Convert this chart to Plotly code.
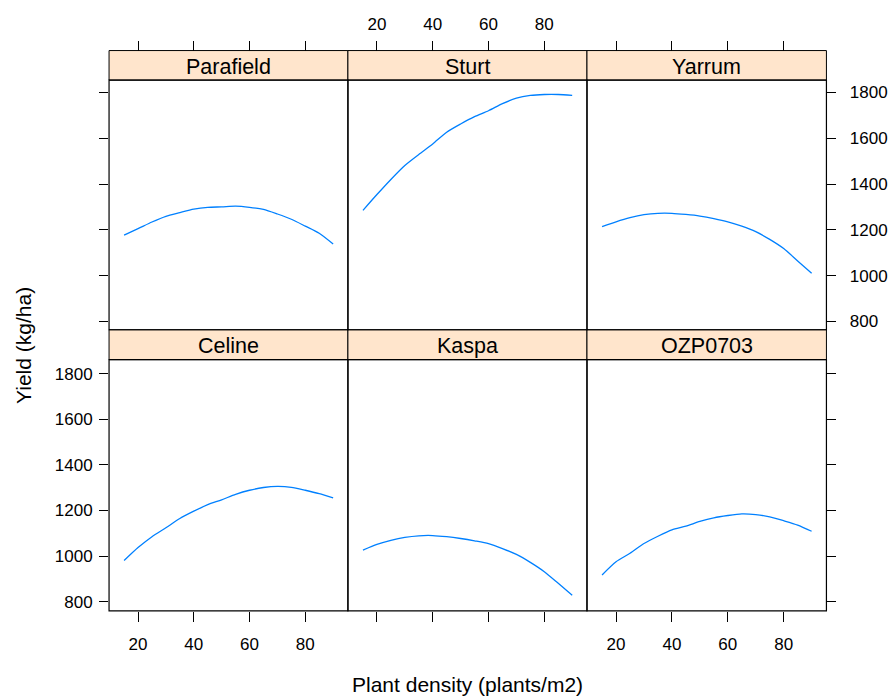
import plotly.graph_objects as go

W, H = 888, 698

density = [15, 20, 25, 30, 35, 40, 45, 50, 55, 60, 65, 70, 75, 80, 85, 90]
varieties = ["Parafield", "Sturt", "Yarrum", "Celine", "Kaspa", "OZP0703"]
yield_parafield = [1177, 1205, 1234, 1259, 1275, 1290, 1298, 1300, 1303, 1298, 1289, 1269, 1246, 1216, 1185, 1138]
yield_sturt = [1285, 1354, 1420, 1481, 1529, 1575, 1626, 1662, 1694, 1720, 1751, 1775, 1787, 1791, 1791, 1787]
yield_yarrum = [1214, 1235, 1253, 1266, 1272, 1272, 1267, 1260, 1249, 1235, 1216, 1192, 1158, 1118, 1064, 1010]
yield_celine = [980, 1037, 1085, 1124, 1165, 1197, 1226, 1247, 1271, 1289, 1301, 1306, 1302, 1289, 1274, 1255]
yield_kaspa = [1026, 1051, 1069, 1082, 1089, 1090, 1085, 1077, 1067, 1055, 1033, 1007, 972, 931, 880, 828]
yield_ozp0703 = [917, 975, 1012, 1055, 1087, 1115, 1131, 1152, 1168, 1178, 1185, 1182, 1172, 1155, 1136, 1109]
yields = [yield_parafield, yield_sturt, yield_yarrum, yield_celine, yield_kaspa, yield_ozp0703]

x_ticks = [20, 40, 60, 80]
y_ticks = [800, 1000, 1200, 1400, 1600, 1800]
x_range = [9.6, 95.3]
y_range_top = [763.4, 1854.0]
y_range_bot = [758.8, 1862.6]

FONT = "Liberation Sans, Arial, Helvetica, sans-serif"
LINE_COL = "#0080ff"
STRIP_COL = "#FFE5CC"

# pixel geometry
col_x = [109.3, 348.7, 588.3, 828.3]
rows = [  # (strip_top, panel_top, panel_bottom)
    (50.7, 80.3, 330.7),
    (330.7, 360.7, 612.7),
]

def px(x):
    return x / W

def py(y):
    return 1 - y / H

fig = go.Figure()
layout = dict(
    width=W, height=H,
    margin=dict(l=0, r=0, t=0, b=0),
    paper_bgcolor="white", plot_bgcolor="white",
    showlegend=False,
    font=dict(family=FONT, size=17, color="black"),
)
shapes = []
annotations = []

for i, name in enumerate(varieties):
    r, c = divmod(i, 3)
    s_top, p_top, p_bot = rows[r]
    x0, x1 = col_x[c], col_x[c + 1]
    xa = "xaxis" if i == 0 else f"xaxis{i+1}"
    ya = "yaxis" if i == 0 else f"yaxis{i+1}"
    xref = "x" if i == 0 else f"x{i+1}"
    yref = "y" if i == 0 else f"y{i+1}"

    fig.add_trace(go.Scatter(
        x=density, y=yields[i], mode="lines",
        line=dict(color=LINE_COL, width=1.3, shape="spline", smoothing=0.7),
        xaxis=xref, yaxis=yref, hoverinfo="skip",
    ))

    xax = dict(
        domain=[px(x0), px(x1)], range=x_range, tickmode="array",
        tickvals=x_ticks, showgrid=False, zeroline=False, showline=False,
        ticks="outside", ticklen=10, tickwidth=1, tickcolor="black",
        tickfont=dict(size=17, family=FONT, color="black"),
        fixedrange=True,
    )
    if r == 0:
        xax.update(side="top", anchor="free", position=py(s_top),
                   showticklabels=(c == 1), ticklabelstandoff=4)
    else:
        xax.update(side="bottom", anchor=yref,
                   showticklabels=(c != 1), ticklabelstandoff=8)

    yax = dict(
        domain=[py(p_bot), py(p_top)],
        range=y_range_top if r == 0 else y_range_bot,
        tickmode="array", tickvals=y_ticks, showgrid=False, zeroline=False,
        showline=False, anchor=xref, fixedrange=True,
        tickfont=dict(size=17, family=FONT, color="black"),
    )
    if c == 0:
        yax.update(side="left", ticks="outside", ticklen=9, tickwidth=1,
                   tickcolor="black", showticklabels=(r == 1),
                   ticklabelstandoff=3)
    elif c == 2:
        yax.update(side="right", ticks="outside", ticklen=9, tickwidth=1,
                   tickcolor="black", showticklabels=(r == 0),
                   ticklabelstandoff=10)
    else:
        yax.update(ticks="", showticklabels=False)
    layout[xa] = xax
    layout[ya] = yax

    # strip
    shapes.append(dict(type="rect", xref="paper", yref="paper",
                       x0=px(x0), x1=px(x1), y0=py(p_top), y1=py(s_top),
                       fillcolor=STRIP_COL, line=dict(color="black", width=1),
                       layer="below"))
    # panel border
    shapes.append(dict(type="rect", xref="paper", yref="paper",
                       x0=px(x0), x1=px(x1), y0=py(p_bot), y1=py(p_top),
                       fillcolor="rgba(0,0,0,0)", line=dict(color="black", width=1.2),
                       layer="above"))
    annotations.append(dict(text=name, xref="paper", yref="paper",
                            x=px((x0 + x1) / 2), y=py((s_top + p_top) / 2 + 1.5),
                            xanchor="center", yanchor="middle", showarrow=False,
                            font=dict(size=21.5, family=FONT, color="black")))

annotations.append(dict(text="Plant density (plants/m2)", xref="paper", yref="paper",
                        x=px(468.8), y=py(686), xanchor="center", yanchor="middle",
                        showarrow=False, font=dict(size=21, family=FONT, color="black")))
annotations.append(dict(text="Yield (kg/ha)", xref="paper", yref="paper",
                        x=px(23), y=py(346), xanchor="center", yanchor="middle",
                        textangle=-90, showarrow=False,
                        font=dict(size=21, family=FONT, color="black")))

layout["shapes"] = shapes
layout["annotations"] = annotations
fig.update_layout(**layout)
fig.write_html("out.html")
